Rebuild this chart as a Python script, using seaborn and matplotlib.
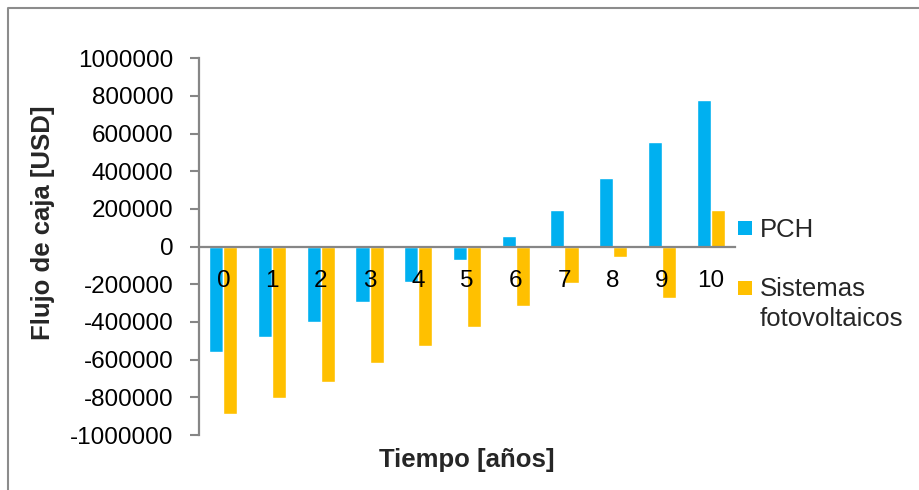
import matplotlib
matplotlib.use("Agg")
import matplotlib.pyplot as plt
from matplotlib.patches import Patch, Rectangle
from matplotlib.lines import Line2D
from matplotlib.legend_handler import HandlerPatch
import pandas as pd
import seaborn as sns

# Cash flow per year (USD) for each alternative
years = ["0", "1", "2", "3", "4", "5", "6", "7", "8", "9", "10"]
pch = [-558000, -482000, -399000, -293000, -186000, -71000,
       57000, 195000, 367000, 558000, 780000]
fotovoltaicos = [-886000, -803000, -718000, -620000, -527000, -429000,
                 -314000, -195000, -57000, -271000, 195000]
series_names = ["PCH", "Sistemas\nfotovoltaicos"]
series_colors = ["#00B0F0", "#FFC000"]
yticks = [-1000000, -800000, -600000, -400000, -200000, 0,
          200000, 400000, 600000, 800000, 1000000]

sns.set_style("white")
plt.rcParams["font.family"] = ["Liberation Sans", "DejaVu Sans"]

df = pd.DataFrame({
    "Año": years * 2,
    "Flujo": pch + fotovoltaicos,
    "Serie": [series_names[0]] * len(years) + [series_names[1]] * len(years),
})

W, H = 920, 490
fig = plt.figure(figsize=(W / 100, H / 100), dpi=100)
ax = fig.add_axes([199 / W, (H - 435) / H, (735 - 199) / W, (435 - 58.3) / H])

sns.barplot(data=df, x="Año", y="Flujo", hue="Serie", order=years,
            hue_order=series_names, palette=series_colors, width=0.58,
            gap=0, saturation=1, errorbar=None, legend=False, ax=ax)

axis_gray = "#868686"
ax.set_xlim(-0.5, 10.5)
ax.set_ylim(-1000000, 1000000)
ax.set_yticks(yticks)
ax.set_yticklabels([str(v) for v in yticks])

for side in ("top", "right"):
    ax.spines[side].set_visible(False)
for side in ("left", "bottom"):
    ax.spines[side].set_color(axis_gray)
    ax.spines[side].set_linewidth(1.6)
    ax.spines[side].set_zorder(4)
ax.spines["bottom"].set_position(("data", 0))

# category labels sit on the zero line, drawn over the bars
ax.xaxis.set_zorder(5)
ax.yaxis.set_zorder(5)

ax.tick_params(axis="y", length=6.5, width=1.5, color=axis_gray,
               labelsize=17.5, pad=12, labelcolor="black", left=True)
ax.tick_params(axis="x", length=0, labelsize=17.5, pad=17, labelcolor="black")

ax.set_xlabel("Tiempo [años]", fontsize=18.5, fontweight="bold")
ax.xaxis.set_label_coords(0.5, (435 - 460) / (435 - 58.3))
ax.xaxis.label.set_va("center")
ax.set_ylabel("Flujo de caja [USD]", fontsize=18.5, fontweight="bold")
ax.yaxis.set_label_coords((43 - 199) / (735 - 199), (435 - 223) / (435 - 58.3))
ax.yaxis.label.set_va("center")


def first_line_patch(legend, orig_handle, xdescent, ydescent, width, height, fontsize):
    # keep the swatch level with the first line of a two-line label
    return Rectangle((-xdescent, -ydescent + 0.66 * fontsize), width, height)


handles = [Patch(facecolor=c, edgecolor="none") for c in series_colors]
leg = ax.legend(handles, series_names, loc="upper left",
                bbox_to_anchor=(738 / W, 1 - 218 / H), bbox_transform=fig.transFigure,
                borderpad=0, borderaxespad=0, handlelength=0.54, handleheight=0.47,
                handletextpad=0.31, labelspacing=1.38, frameon=False, fontsize=18.5,
                handler_map={handles[1]: HandlerPatch(patch_func=first_line_patch)})
leg.get_texts()[1].set_linespacing(1.3)

# Chart-area frame (top and left edges)
fig.add_artist(Line2D([8 / W, 8 / W, 1], [0, 1 - 8 / H, 1 - 8 / H],
                      color="#8C8C8C", lw=1.5, transform=fig.transFigure))

fig.savefig("out.png", dpi=100)
